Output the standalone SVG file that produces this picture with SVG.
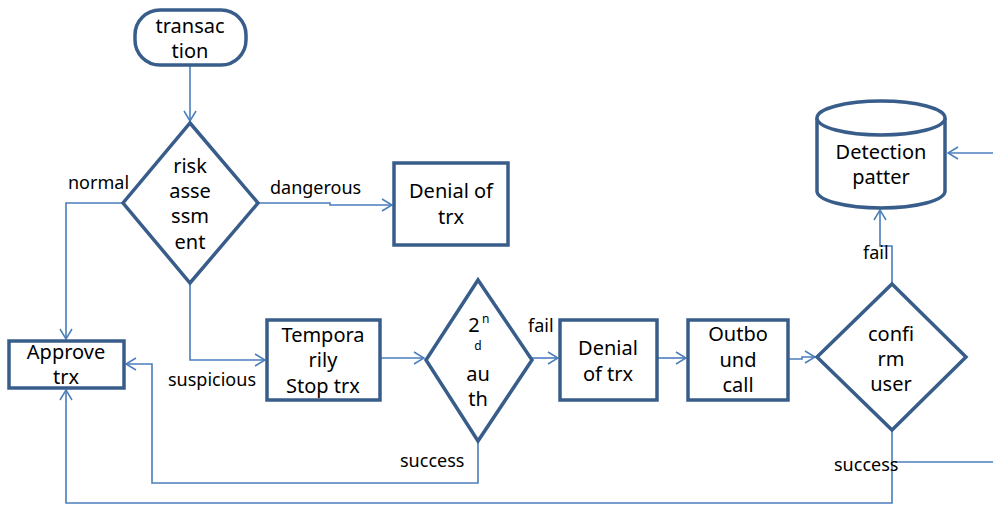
<svg xmlns="http://www.w3.org/2000/svg" width="993" height="505" viewBox="0 0 993 505">
<defs>
<marker id="arr" markerWidth="12" markerHeight="14" refX="11" refY="7" orient="auto" markerUnits="userSpaceOnUse">
<path d="M1,1 L11,7 L1,13" fill="none" stroke="#4A7EBB" stroke-width="1.5"/>
</marker>
</defs>
<style>
.n{fill:#fff;stroke:#385D8A;stroke-width:3.5}
.c{fill:none;stroke:#4A7EBB;stroke-width:1.6}
text{font-family:"Noto Sans","Open Sans","Liberation Sans",sans-serif;fill:#000}
.t{font-size:20px;text-anchor:middle}
.l{font-size:18px}
.s{font-size:12px}
</style>
<rect width="993" height="505" fill="#fff"/>
<g id="connectors">
<path class="c" d="M190,65 V121" marker-end="url(#arr)"/>
<path class="c" d="M123,203 H66 V339" marker-end="url(#arr)"/>
<path class="c" d="M258,203 H330 V205 H392" marker-end="url(#arr)"/>
<path class="c" d="M190,283 V360 H265" marker-end="url(#arr)"/>
<path class="c" d="M380,358 H424" marker-end="url(#arr)"/>
<path class="c" d="M532,358 H558" marker-end="url(#arr)"/>
<path class="c" d="M657,358 H686" marker-end="url(#arr)"/>
<path class="c" d="M788,359 H802 V357 H815" marker-end="url(#arr)"/>
<path class="c" d="M892,284 V246 H880 V210" marker-end="url(#arr)"/>
<path class="c" d="M993,153 H948" marker-end="url(#arr)"/>
<path class="c" d="M478,442 V483 H152 V364 H126" marker-end="url(#arr)"/>
<path class="c" d="M892,430 V503 H66 V390" marker-end="url(#arr)"/>
<path class="c" d="M895,462 H993"/>
</g>
<g id="transaction">
<rect class="n" x="135" y="10" width="111" height="55" rx="25"/>
<text class="t" x="190" y="33">transac</text>
<text class="t" x="190" y="58">tion</text>
</g>
<g id="risk">
<polygon class="n" points="190,123 258,203 190,283 123,203"/>
<text class="t" x="190" y="173">risk</text>
<text class="t" x="190" y="198">asse</text>
<text class="t" x="190" y="223">ssm</text>
<text class="t" x="190" y="249">ent</text>
</g>
<g id="denial1">
<rect class="n" x="394" y="163" width="114" height="82"/>
<text class="t" x="451" y="198">Denial  of</text>
<text class="t" x="451" y="224">trx</text>
</g>
<g id="approve">
<rect class="n" x="9" y="341" width="115" height="47"/>
<text class="t" x="66" y="359">Approve</text>
<text class="t" x="66" y="384">trx</text>
</g>
<g id="temp">
<rect class="n" x="267" y="320" width="113" height="80"/>
<text class="t" x="323" y="342">Tempora</text>
<text class="t" x="323" y="367">rily</text>
<text class="t" x="323" y="393">Stop trx</text>
</g>
<g id="auth">
<polygon class="n" points="478,280 532,360 478,441 426,360"/>
<text class="t" x="474" y="332">2</text>
<text class="s" x="482" y="323">n</text>
<text class="s" x="478" y="350" text-anchor="middle">d</text>
<text class="t" x="478" y="381">au</text>
<text class="t" x="478" y="406">th</text>
</g>
<g id="denial2">
<rect class="n" x="560" y="320" width="97" height="80"/>
<text class="t" x="608" y="355">Denial</text>
<text class="t" x="608" y="381">of  trx</text>
</g>
<g id="outbound">
<rect class="n" x="688" y="320" width="100" height="80"/>
<text class="t" x="738" y="341">Outbo</text>
<text class="t" x="738" y="367">und</text>
<text class="t" x="738" y="392">call</text>
</g>
<g id="confirm">
<polygon class="n" points="892,284 966,357 892,430 817,357"/>
<text class="t" x="891" y="341">confi</text>
<text class="t" x="891" y="366">rm</text>
<text class="t" x="891" y="391">user</text>
</g>
<g id="detection">
<path class="n" d="M817,118 A64,17 0 0 1 945,118 V191 A64,17 0 0 1 817,191 Z"/>
<path class="n" d="M817,118 A64,17 0 0 0 945,118" fill="none"/>
<text class="t" x="881" y="159">Detection</text>
<text class="t" x="881" y="184">patter</text>
</g>
<g id="labels">
<text class="l" x="68" y="189">normal</text>
<text class="l" x="270" y="194">dangerous</text>
<text class="l" x="168" y="386">suspicious</text>
<text class="l" x="528" y="332">fail</text>
<text class="l" x="400" y="467">success</text>
<text class="l" x="863" y="259">fail</text>
<text class="l" x="834" y="471">success</text>
</g>
</svg>
